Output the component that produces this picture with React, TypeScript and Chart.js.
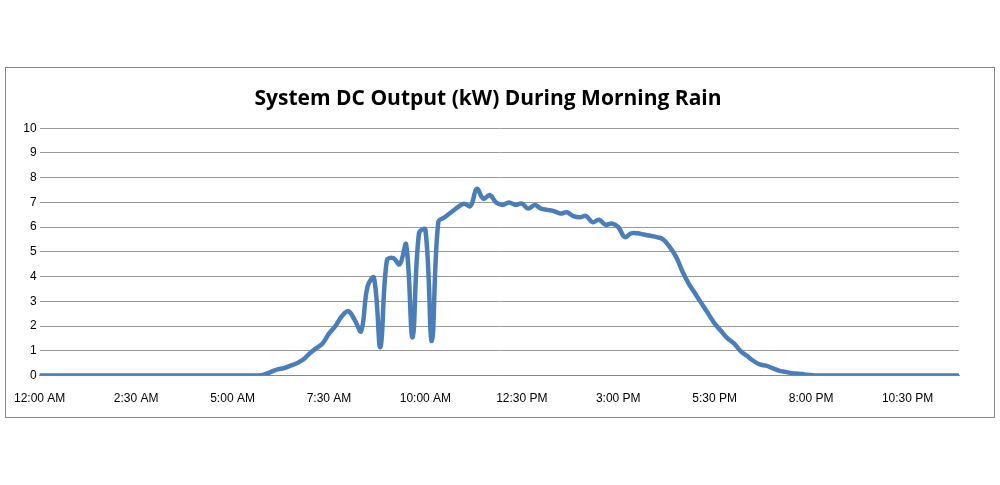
import React, { useEffect, useRef } from "react";
import { Chart, registerables } from "chart.js";
Chart.register(...registerables);

const labels: string[] = [];
for (let i = 0; i < 144; i++) {
  const m = i * 10;
  let h = Math.floor(m / 60);
  const mm = m % 60;
  const ap = h < 12 ? "AM" : "PM";
  h = h % 12 === 0 ? 12 : h % 12;
  labels.push(`${h}:${mm.toString().padStart(2, "0")} ${ap}`);
}

const zerosBefore = new Array(35).fill(0);
const dayValues = [
  0.05, 0.15, 0.25, 0.3, 0.4, 0.5, 0.65, 0.9, 1.1, 1.3, 1.7, 2.0, 2.4, 2.6, 2.25, 1.8,
  3.6, 3.95, 1.15, 4.65, 4.75, 4.5, 5.3, 1.55, 5.75, 5.9, 1.4, 6.2, 6.4, 6.6, 6.8, 6.95, 6.85,
  7.55, 7.15, 7.3, 7.0, 6.9, 7.0, 6.9, 6.95, 6.75, 6.9, 6.75, 6.7, 6.65, 6.55, 6.6, 6.45,
  6.4, 6.45, 6.2, 6.3, 6.1, 6.15, 6.0, 5.6, 5.75, 5.75, 5.7, 5.65, 5.6, 5.5, 5.2, 4.8,
  4.2, 3.7, 3.3, 2.9, 2.5, 2.1, 1.8, 1.5, 1.3, 1.0, 0.8, 0.6, 0.45, 0.4, 0.3, 0.2, 0.15,
  0.1, 0.08, 0.05, 0.02,
];
const values = [...zerosBefore, ...dayValues];
while (values.length < 144) values.push(0);

export default function App() {
  const ref = useRef<HTMLCanvasElement>(null);
  useEffect(() => {
    document.body.style.margin = "0";
    const chart = new Chart(ref.current!, {
      type: "line",
      data: {
        labels,
        datasets: [{
          data: values,
          borderColor: "#4a7ebb",
          borderWidth: 4.5,
          pointRadius: 0,
          tension: 0.4,
          fill: false,
        }],
      },
      options: {
        animation: false,
        responsive: false,
        layout: { padding: { left: 11, right: 35, top: 8, bottom: 3 } },
        plugins: {
          legend: { display: false },
          tooltip: { enabled: false },
          title: {
            display: true,
            text: "System DC Output (kW) During Morning Rain",
            font: { family: "Open Sans", size: 21, weight: "bold" },
            color: "#000",
            padding: { top: 10, bottom: 17 },
          },
        },
        scales: {
          x: {
            offset: false,
            grid: { display: false, drawOnChartArea: false },
            border: { color: "#888" },
            ticks: {
              autoSkip: false,
              maxRotation: 0,
              padding: 8,
              color: "#000",
              font: { family: "Liberation Sans", size: 12 },
              callback: (_v, i) => (i % 15 === 0 ? labels[i] : null),
            },
          },
          y: {
            min: 0,
            max: 10,
            ticks: { stepSize: 1, color: "#000", font: { family: "Liberation Sans", size: 12 } },
            grid: { color: "#999", drawTicks: false },
            border: { display: false },
          },
        },
      },
    });
    return () => chart.destroy();
  }, []);
  return (
    <div style={{ position: "absolute", left: 5, top: 67, width: 988, height: 349, border: "1px solid #888" }}>
      <canvas ref={ref} width={988} height={349} />
    </div>
  );
}
